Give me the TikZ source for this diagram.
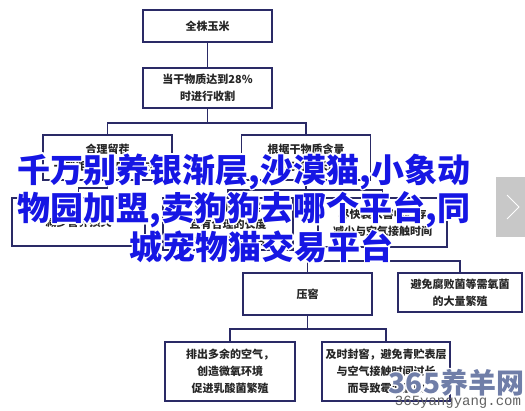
\documentclass[tikz,border=0pt]{standalone}
\usepackage{fontspec}
\setmainfont{Noto Sans CJK SC}
\setmonofont{Liberation Mono}
\usepackage[copies]{contour}
\contourlength{1.3pt}
\definecolor{boxline}{RGB}{42,42,102}
\definecolor{spamblue}{RGB}{22,22,228}
\definecolor{markgray}{RGB}{112,126,168}
\definecolor{btngray}{RGB}{200,200,200}

\begin{document}
\begin{tikzpicture}[
    x=1pt, y=1pt,
    font=\fontsize{11}{17}\selectfont,
    box/.style   ={draw=boxline, line width=1.6pt, fill=white, align=center,
                   minimum width=129pt, minimum height=40pt, inner sep=1pt,
                   text=black!85, font=\fontsize{11}{17}\selectfont\bfseries},
    link/.style  ={draw=boxline, line width=1.6pt},
    banner/.style={text=spamblue, align=center,
                   font=\fontsize{33}{32.5}\selectfont\bfseries},
  ]
  \useasboundingbox (0,0) rectangle (525,-411);

  % ------------------------------------------------------------ harvest ---
  \node[box, minimum height=32pt] (corn) at (207.5,-26) {全株玉米};
  \node[box] (harvest) at (207.5,-88) {当干物质达到28\%\\时进行收割};

  % ---------------------------------------------------------- cutting ---
  \node[box, minimum height=45pt] (stubble) at (107.5,-157.5)
        {合理留茬\\一般距地面15CM左右};
  \node[box, minimum height=45pt] (cutlen) at (306,-157.5)
        {根据干物质含量\\确定切割长度};

  \node[box, minimum width=133pt, minimum height=48pt] (loss) at (78.5,-222)
        {减少营养损失};
  \node[box, minimum width=130pt, minimum height=52pt] (chop) at (228,-224)
        {使有利于压实\\且有合理的长度\\50-70公分左右};
  \node[box, minimum height=49pt] (fill) at (382.5,-222.5)
        {尽快装入窖中贮存\\减少与空气接触时间};

  % ---------------------------------------------------------- storing ---
  \node[box, minimum height=42pt] (press) at (307.5,-294) {压窖};
  \node[box, minimum width=124pt, minimum height=39pt] (aerobe) at (460,-292.5)
        {避免腐败菌等需氧菌\\的大量繁殖};

  \node[box, minimum width=130pt, minimum height=59pt] (expel) at (230,-371.5)
        {排出多余的空气，\\创造微氧环境\\促进乳酸菌繁殖};
  \node[box, minimum width=128pt, minimum height=59pt] (seal) at (386,-371.5)
        {及时封窖，避免青贮表层\\与空气接触时间过长\\而导致霉变腐败};

  % ===================================================== edges ================
  \coordinate (fork1) at ([yshift=-14pt]harvest.south);
  \coordinate (fork2) at ([yshift=-9pt]cutlen.south);
  \coordinate (fork3) at ([yshift=-13pt]fill.south);
  \coordinate (fork4) at ([yshift=-13pt]press.south);

  \draw[link] (corn.south) -- (harvest.north);
  \draw[link] (harvest.south) -- (fork1) -| (stubble.north);
  \draw[link] (fork1) -| (cutlen.north);

  \draw[link] (stubble.south) |- ([yshift=9pt]loss.north) -- (loss.north);
  \draw[link] (cutlen.south) -- (fork2) -| (chop.north);
  \draw[link] (fork2) -| (fill.north);

  \draw[link] (fill.south) -- (fork3) -| (press.north);
  \draw[link] (fork3) -| (aerobe.north);

  \draw[link] (press.south) -- (fork4) -| (expel.north);
  \draw[link] (fork4) -| (seal.north);

  % ---------------------------------------------------------- overlay ---
  \node[banner] (headline) at (244,-209)
        {\contour{white}{千万别养银渐层,沙漠猫,小象动}\\
         \contour{white}{物园加盟,卖狗狗去哪个平台,同}\\
         \hspace*{36pt}\contour{white}{城宠物猫交易平台}};

  \node[fill=btngray, minimum width=29pt, minimum height=60pt, inner sep=0pt]
        (nextbtn) at (510.5,-207) {};
  \draw[white, line width=1pt] ([shift={(-3.5,12)}]nextbtn.center)
        -- ([shift={(8.5,0)}]nextbtn.center) -- ([shift={(-3.5,-12)}]nextbtn.center);

  \node[text=markgray, inner sep=0pt, font=\fontsize{28}{28}\selectfont\bfseries]
        (sitemark) at (456.5,-383.5) {\contour{white}{365养羊网}};
  \node[text=black!62, inner sep=0pt, font=\fontsize{14}{14}\selectfont\ttfamily]
        (siteurl) at (458,-402.5) {365yangyang.com};

\end{tikzpicture}
\end{document}
